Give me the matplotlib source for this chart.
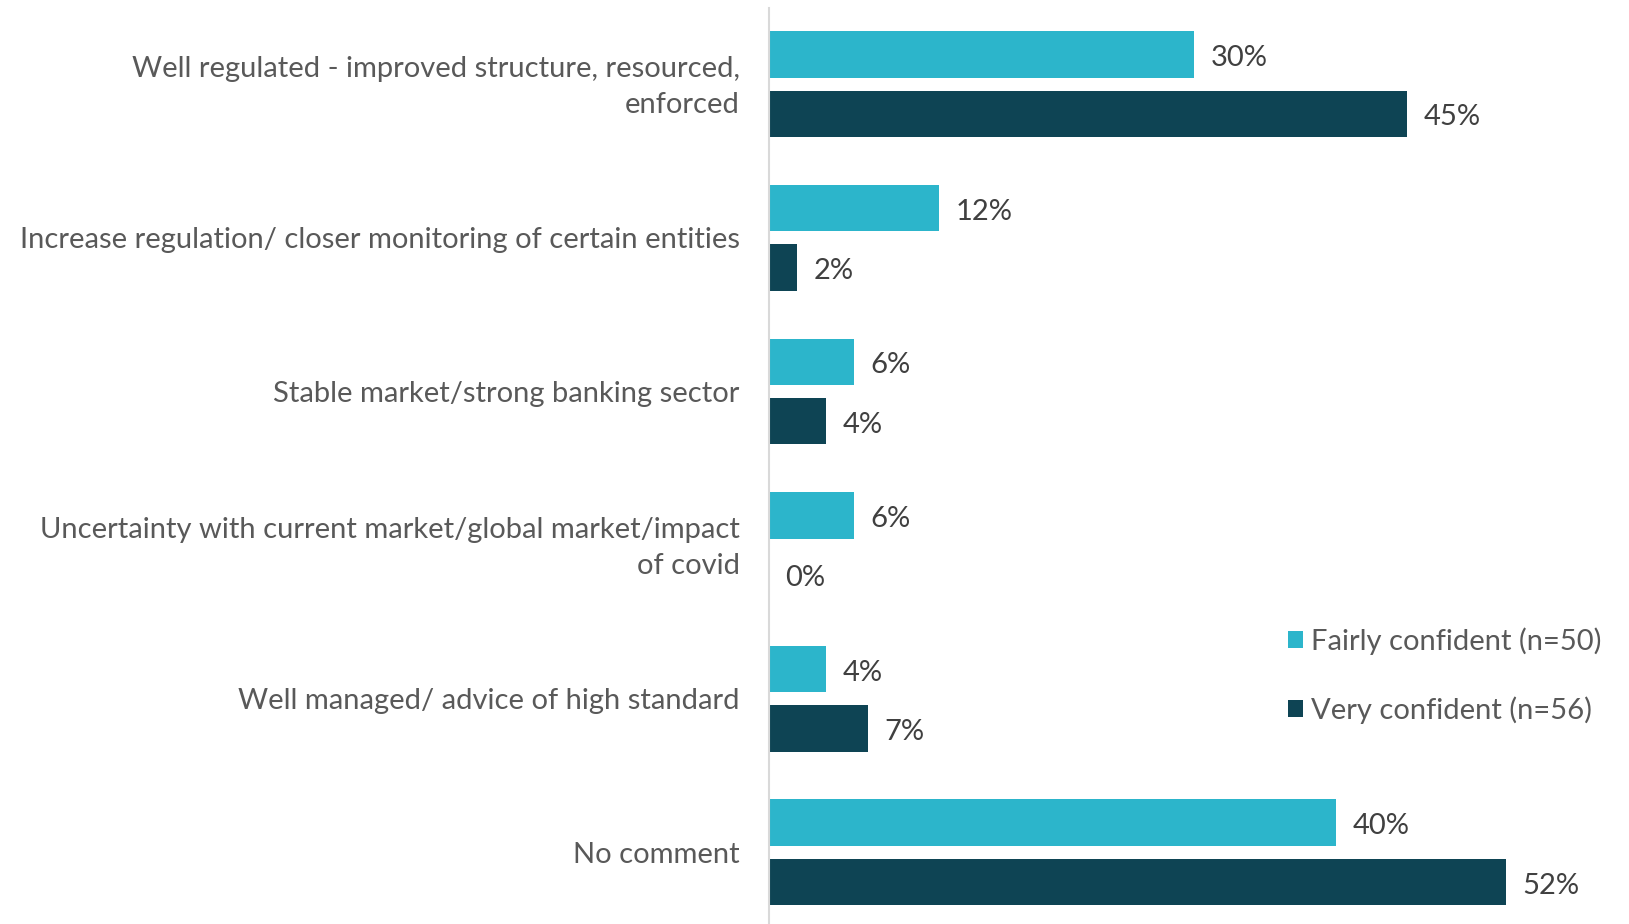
import matplotlib
matplotlib.use("Agg")
import matplotlib.pyplot as plt
import matplotlib.transforms as mtransforms
import numpy as np

categories = [
    "Well regulated - improved structure, resourced,\nenforced",
    "Increase regulation/ closer monitoring of certain entities",
    "Stable market/strong banking sector",
    "Uncertainty with current market/global market/impact\nof covid",
    "Well managed/ advice of high standard",
    "No comment",
]
fairly_confident = [30, 12, 6, 6, 4, 40]
very_confident = [45, 2, 4, 0, 7, 52]
series_labels = ["Fairly confident (n=50)", "Very confident (n=56)"]
series_colors = ["#2CB5CB", "#0E4454"]

plt.rcParams["font.family"] = ["Lato", "DejaVu Sans"]
FS = 21

fig = plt.figure(figsize=(16.29, 9.24), dpi=100)
ax = fig.add_axes([0.472, 0.0, 0.522, 0.991])

y = np.arange(len(categories))
h = 0.303
off = 0.193
bars_f = ax.barh(y - off, fairly_confident, height=h, color=series_colors[0], label=series_labels[0])
bars_v = ax.barh(y + off, very_confident, height=h, color=series_colors[1], label=series_labels[1])

for bars, vals in ((bars_f, fairly_confident), (bars_v, very_confident)):
    for b, v in zip(bars, vals):
        ax.annotate(f"{v}%", xy=(v, b.get_y() + b.get_height() / 2),
                    xytext=(12, -2.5), textcoords="offset points",
                    ha="left", va="center", fontsize=FS, color="#404040")

ax.set_xlim(0, 60)
ax.set_ylim(5.466, -0.494)
ax.set_yticks(y)
ax.set_yticklabels([])
ax.tick_params(axis="y", length=0)
ax.set_xticks([])

# category labels, right-aligned just left of the axis line
for yi, cat in zip(y, categories):
    dy = 4.7 / 100 if "\n" in cat else 0.0
    tr = ax.get_yaxis_transform() + mtransforms.ScaledTranslation(-21 / 72, dy, fig.dpi_scale_trans)
    ax.text(0, yi, cat, transform=tr, fontsize=FS, color="#595959",
            ha="right", va="center_baseline", multialignment="right", linespacing=1.46)

for side in ("top", "right", "bottom"):
    ax.spines[side].set_visible(False)
ax.spines["left"].set_color("#D9D9D9")
ax.spines["left"].set_linewidth(1.5)

leg = ax.legend(loc="upper left", bbox_to_anchor=(1288 / 1629, 1 - 627 / 924),
                bbox_transform=fig.transFigure, frameon=False, fontsize=FS,
                handlelength=0.5, handleheight=0.5, handletextpad=0.3,
                labelspacing=1.42, borderpad=0, borderaxespad=0)
for t in leg.get_texts():
    t.set_color("#595959")

fig.savefig("out.png", dpi=100)
